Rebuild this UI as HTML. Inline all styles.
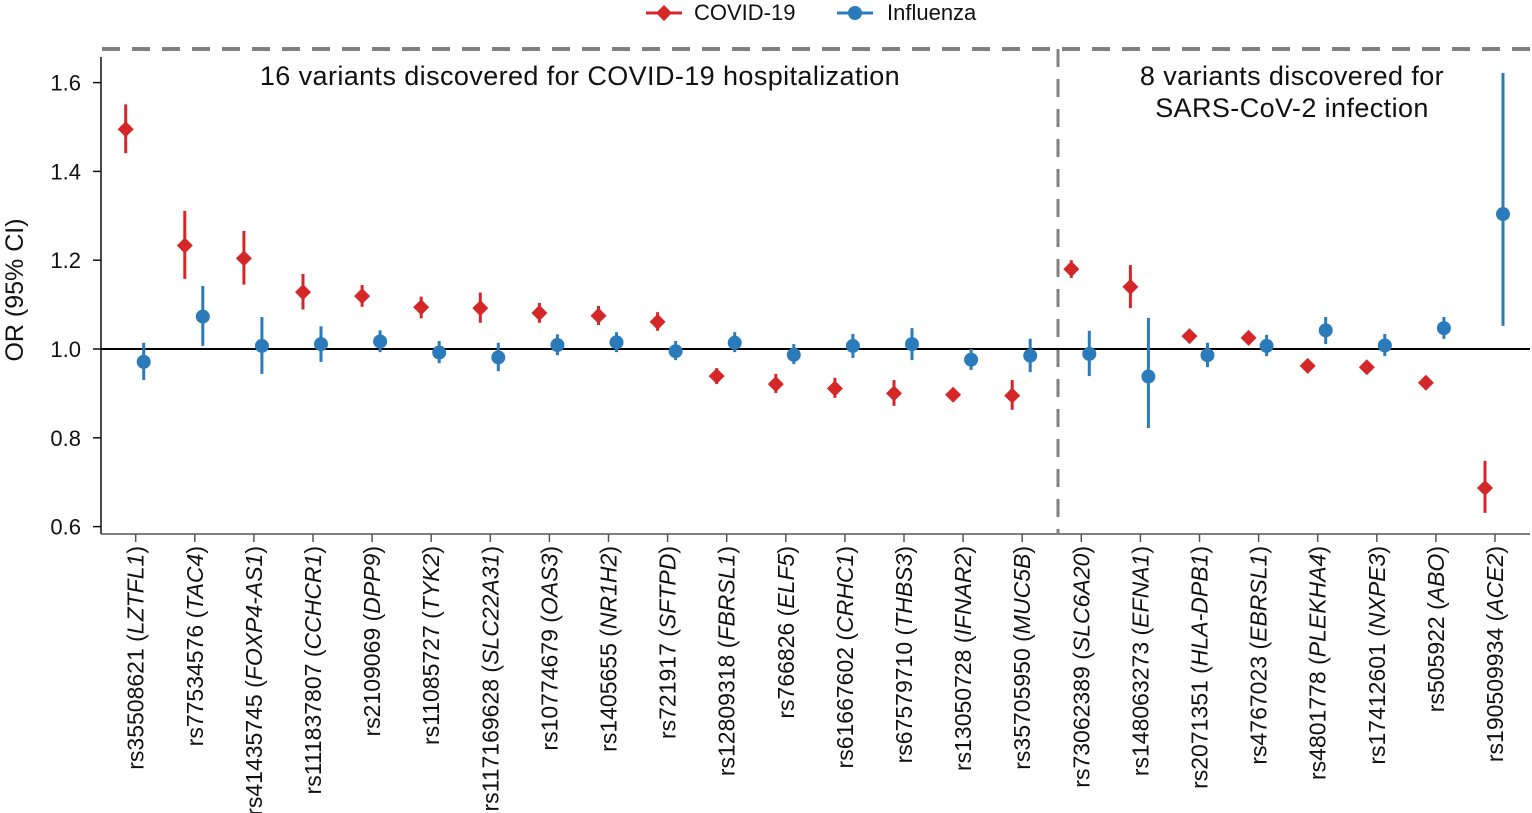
<!DOCTYPE html>
<html><head><meta charset="utf-8"><style>
html,body{margin:0;padding:0;background:#fff;}
svg{display:block;font-family:"Liberation Sans",Arial,sans-serif;}
</style></head><body>
<svg id="chart" width="1532" height="813">
<g id="legend">
 <g>
  <line x1="646" y1="13" x2="682" y2="13" stroke="#d62728" stroke-width="3"/>
  <polygon points="664,5 672,13 664,21 656,13" fill="#d62728"/>
  <text x="694" y="20" font-size="22" fill="#111">COVID-19</text>
 </g>
 <g>
  <line x1="837" y1="13" x2="873" y2="13" stroke="#2b7bba" stroke-width="3"/>
  <circle cx="855" cy="13" r="7" fill="#2b7bba"/>
  <text x="887" y="20" font-size="22" fill="#111">Influenza</text>
 </g>
</g>
<g id="axes"></g>
<g id="marks"></g>
</svg>
<script>
const categories=["rs35508621|LZTFL1","rs77534576|TAC4","rs41435745|FOXP4-AS1","rs111837807|CCHCR1","rs2109069|DPP9","rs11085727|TYK2","rs117169628|SLC22A31","rs10774679|OAS3","rs1405655|NR1H2","rs721917|SFTPD","rs12809318|FBRSL1","rs766826|ELF5","rs61667602|CRHC1","rs67579710|THBS3","rs13050728|IFNAR2","rs35705950|MUC5B","rs73062389|SLC6A20","rs148063273|EFNA1","rs2071351|HLA-DPB1","rs4767023|EBRSL1","rs4801778|PLEKHA4","rs17412601|NXPE3","rs505922|ABO","rs190509934|ACE2"];
const covidOR=[1.495,1.233,1.204,1.128,1.119,1.094,1.092,1.081,1.075,1.061,0.939,0.921,0.911,0.900,0.897,0.895,1.180,1.140,1.029,1.025,0.962,0.959,0.924,0.687];
const covidLo=[1.441,1.158,1.145,1.089,1.095,1.069,1.059,1.059,1.054,1.041,0.921,0.901,0.890,0.872,0.883,0.863,1.160,1.092,1.018,1.013,0.953,0.948,0.914,0.631];
const covidHi=[1.551,1.311,1.266,1.169,1.144,1.118,1.127,1.104,1.097,1.083,0.957,0.944,0.935,0.930,0.912,0.930,1.200,1.189,1.040,1.038,0.973,0.968,0.935,0.748];
const fluOR=[0.971,1.073,1.007,1.011,1.017,0.992,0.981,1.009,1.015,0.995,1.014,0.987,1.007,1.011,0.976,0.985,0.989,0.938,0.986,1.007,1.042,1.008,1.047,1.304];
const fluLo=[0.930,1.007,0.944,0.971,0.993,0.968,0.950,0.986,0.993,0.975,0.993,0.966,0.980,0.975,0.953,0.948,0.939,0.822,0.959,0.984,1.011,0.984,1.023,1.052];
const fluHi=[1.014,1.142,1.072,1.051,1.042,1.018,1.014,1.033,1.038,1.018,1.038,1.011,1.034,1.047,1.000,1.023,1.041,1.070,1.014,1.032,1.072,1.034,1.072,1.622];
const yTicks=[0.6,0.8,1.0,1.2,1.4,1.6];
const yTickLabels=["0.6","0.8","1.0","1.2","1.4","1.6"];

const NS="http://www.w3.org/2000/svg";
const L=101,R=1530,T=49,B=534;
function y(v){return 349-(v-1)*444;}
function x(i){return 135.7+i*59.1;}
function mk(tag,attrs,parent){const e=document.createElementNS(NS,tag);for(const k in attrs)e.setAttribute(k,attrs[k]);parent.appendChild(e);return e;}
const axes=document.getElementById('axes'),marks=document.getElementById('marks');

let e;
e=mk('line',{x1:L,y1:T+8,x2:L,y2:B,stroke:'#111','stroke-width':1.5},axes);


e=mk('line',{x1:L,y1:B,x2:R,y2:B,stroke:'#555','stroke-width':1.5},axes);


e=mk('line',{x1:L+1,y1:T,x2:R,y2:T,stroke:'#808080','stroke-width':4,'stroke-dasharray':'18,12'},axes);


e=mk('line',{x1:1058,y1:T,x2:1058,y2:B,stroke:'#808080','stroke-width':3,'stroke-dasharray':'18,12'},axes);


e=mk('line',{x1:L,y1:y(1),x2:R,y2:y(1),stroke:'#000','stroke-width':2},axes);



yTicks.forEach((v,i)=>{
 const t=mk('line',{x1:L-8,y1:y(v),x2:L,y2:y(v),stroke:'#111','stroke-width':1.5},axes);
 
 
 const tx=mk('text',{x:81,y:y(v)+8,'font-size':22,'text-anchor':'end',fill:'#111'},axes);
 tx.textContent=yTickLabels[i];
 
 
});
e=mk('text',{x:0,y:0,'font-size':25,'text-anchor':'middle',fill:'#111',transform:'translate(23,290) rotate(-90)'},axes);
e.textContent='OR (95% CI)';



categories.forEach((c,i)=>{
 const [rs,gene]=c.split('|');
 const t=mk('line',{x1:x(i),y1:B,x2:x(i),y2:B+8,stroke:'#555','stroke-width':1.5},axes);
 
 
 const tx=mk('text',{x:0,y:0,'font-size':23,'text-anchor':'end',fill:'#111',transform:`translate(${x(i)+8},${B+12}) rotate(-90)`},axes);
 
 
 tx.appendChild(document.createTextNode(rs+' ('));
 const it=mk('tspan',{'font-style':'italic'},tx);it.textContent=gene;
 tx.appendChild(document.createTextNode(')'));
});

function annot(lines,cx,yy){lines.forEach((s,k)=>{const t=mk('text',{x:cx,y:yy+k*32,'font-size':27,'text-anchor':'middle',fill:'#111','letter-spacing':'0.4'},axes);t.textContent=s;
 
 });}
annot(['16 variants discovered for COVID-19 hospitalization'],580,85);
annot(['8 variants discovered for','SARS-CoV-2 infection'],1292,85);

categories.forEach((c,i)=>{
 const cx=x(i)-10;
 let l=mk('line',{x1:cx,y1:y(covidLo[i]),x2:cx,y2:y(covidHi[i]),stroke:'#d62728','stroke-width':3},marks);
 
 
 const cy=y(covidOR[i]);
 let p=mk('polygon',{points:`${cx},${cy-8} ${cx+8},${cy} ${cx},${cy+8} ${cx-8},${cy}`,fill:'#d62728'},marks);
 
 
 const fx=x(i)+8;
 l=mk('line',{x1:fx,y1:y(fluLo[i]),x2:fx,y2:y(fluHi[i]),stroke:'#2b7bba','stroke-width':3},marks);
 
 
 p=mk('circle',{cx:fx,cy:y(fluOR[i]),r:7,fill:'#2b7bba'},marks);
 
 
});
</script>
</body></html>
